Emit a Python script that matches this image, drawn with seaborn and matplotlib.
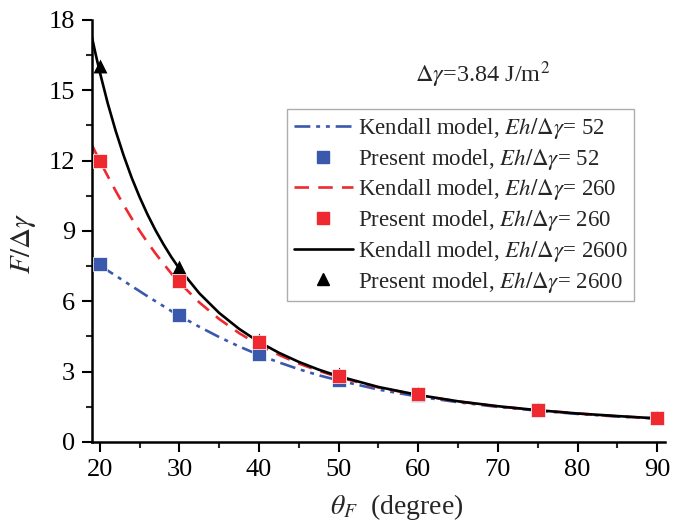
import numpy as np
import pandas as pd
import seaborn as sns
import matplotlib
matplotlib.use("Agg")
import matplotlib.pyplot as plt
from matplotlib.lines import Line2D

# Kendall model curves
theta_line = [19, 19.5, 20, 21, 22, 23, 24, 25, 26, 27, 28, 29, 30, 32.5, 35, 37.5, 40, 42.5, 45, 47.5,
              50, 55, 60, 65, 70, 75, 80, 85, 90, 91]
k52 = [np.nan, np.nan, 7.53, 7.31, 7.09, 6.87, 6.65, 6.43, 6.21, 6.00, 5.79, 5.58, 5.38, 4.91, 4.47, 4.07,
       3.71, 3.39, 3.10, 2.84, 2.62, 2.23, 1.93, 1.69, 1.49, 1.33, 1.19, 1.08, 0.99, 0.975]
k260 = [12.68, 12.33, 11.99, 11.34, 10.71, 10.11, 9.54, 9.01, 8.51, 8.04, 7.60, 7.18, 6.80, 5.95, 5.24, 4.64,
        4.13, 3.71, 3.34, 3.03, 2.76, 2.32, 1.99, 1.72, 1.51, 1.35, 1.21, 1.09, 1.00, 0.98]
k2600 = [17.30, 16.52, 15.79, 14.45, 13.27, 12.22, 11.28, 10.45, 9.70, 9.03, 8.43, 7.88, 7.39, 6.34, 5.50, 4.82,
         4.26, 3.80, 3.41, 3.08, 2.80, 2.34, 2.00, 1.73, 1.52, 1.35, 1.21, 1.10, 1.00, 0.98]

# Present model points
theta_pts = [20, 30, 40, 50, 60, 75, 90]
p52 = [7.6, 5.4, 3.75, 2.65, 1.98, 1.35, 1.0]
p260 = [12.0, 6.85, 4.25, 2.8, 2.02, 1.36, 1.02]
p2600 = [16.05, 7.45, 4.35, 2.9, 2.08, 1.42, 1.08]

labels_k = ["Kendall model, $Eh/\\Delta\\gamma$= 52",
            "Kendall model, $Eh/\\Delta\\gamma$= 260",
            "Kendall model, $Eh/\\Delta\\gamma$= 2600"]
labels_p = ["Present model, $Eh/\\Delta\\gamma$= 52",
            "Present model, $Eh/\\Delta\\gamma$= 260",
            "Present model, $Eh/\\Delta\\gamma$= 2600"]

sns.set_style("ticks")
plt.rcParams['font.family'] = ['Liberation Serif', 'DejaVu Serif']
plt.rcParams['mathtext.fontset'] = 'stix'

blue = '#3a59ad'
red = '#ee2a30'
black = '#000000'
dashdotdot = (0, (6, 2.2, 1.5, 2.2, 1.5, 2.2))
dashed = (0, (5.5, 3.5))

fig = plt.figure(figsize=(6.9, 5.26), dpi=100)
ax = fig.add_axes([0.133, 0.160, 0.831, 0.802])

d52 = pd.DataFrame({'x': theta_line, 'y': k52}).dropna()
sns.lineplot(data=d52, x='x', y='y', ax=ax, color=blue, lw=1.9,
             linestyle=dashdotdot, estimator=None, sort=False)
sns.lineplot(x=theta_line, y=k260, ax=ax, color=red, lw=1.9,
             linestyle=dashed, estimator=None, sort=False)
sns.lineplot(x=theta_line, y=k2600, ax=ax, color=black, lw=1.9,
             linestyle='-', estimator=None, sort=False)

sns.scatterplot(x=theta_pts, y=p52, ax=ax, color=blue, marker='s', s=100, linewidth=0.5, edgecolor='white', zorder=3)
sns.scatterplot(x=theta_pts, y=p2600, ax=ax, color=black, marker='^', s=100, linewidth=0, zorder=4)
sns.scatterplot(x=theta_pts, y=p260, ax=ax, color=red, marker='s', s=100, linewidth=0.5, edgecolor='white', zorder=5)

ax.set_xlim(19, 91)
ax.set_ylim(0, 18)
ax.set_xticks([20, 30, 40, 50, 60, 70, 80, 90])
ax.set_xticks([25, 35, 45, 55, 65, 75, 85], minor=True)
ax.set_yticks([0, 3, 6, 9, 12, 15, 18])
ax.set_yticks([1.5, 4.5, 7.5, 10.5, 13.5, 16.5], minor=True)
ax.tick_params(axis='both', which='major', length=7, width=1.5, direction='out', labelsize=19, pad=5, colors='black')
ax.tick_params(axis='both', which='minor', length=4.5, width=1.5, direction='out')
for s in ['top', 'right']:
    ax.spines[s].set_visible(False)
for s in ['left', 'bottom']:
    ax.spines[s].set_linewidth(1.8)
    ax.spines[s].set_color('black')

ax.set_xlabel("$\\theta_F$  (degree)", fontsize=20)
ax.set_ylabel("$F/\\Delta\\gamma$", fontsize=21)
ax.xaxis.set_label_coords(0.532, -0.118)
ax.yaxis.set_label_coords(-0.094, 0.47)

ax.text(0.564, 0.870, "$\\Delta\\gamma$=3.84 J/m$^2$", transform=ax.transAxes, fontsize=17.5,
        ha='left', va='center')

handles = [
    Line2D([], [], color=blue, lw=1.9, linestyle=dashdotdot),
    Line2D([], [], color=blue, marker='s', linestyle='none', markersize=8),
    Line2D([], [], color=red, lw=1.9, linestyle=dashed),
    Line2D([], [], color=red, marker='s', linestyle='none', markersize=8),
    Line2D([], [], color=black, lw=1.9),
    Line2D([], [], color=black, marker='^', linestyle='none', markersize=8),
]
labs = [labels_k[0], labels_p[0], labels_k[1], labels_p[1], labels_k[2], labels_p[2]]
leg = ax.legend(handles, labs, loc='upper left', bbox_to_anchor=(0.34, 0.789),
                fontsize=16.5, frameon=True, fancybox=False, edgecolor='#999999',
                handlelength=2.6, handletextpad=0.2, labelspacing=0.25, borderpad=0.3,
                borderaxespad=0)
leg.get_frame().set_linewidth(1.0)

fig.savefig("out.png", dpi=100)
